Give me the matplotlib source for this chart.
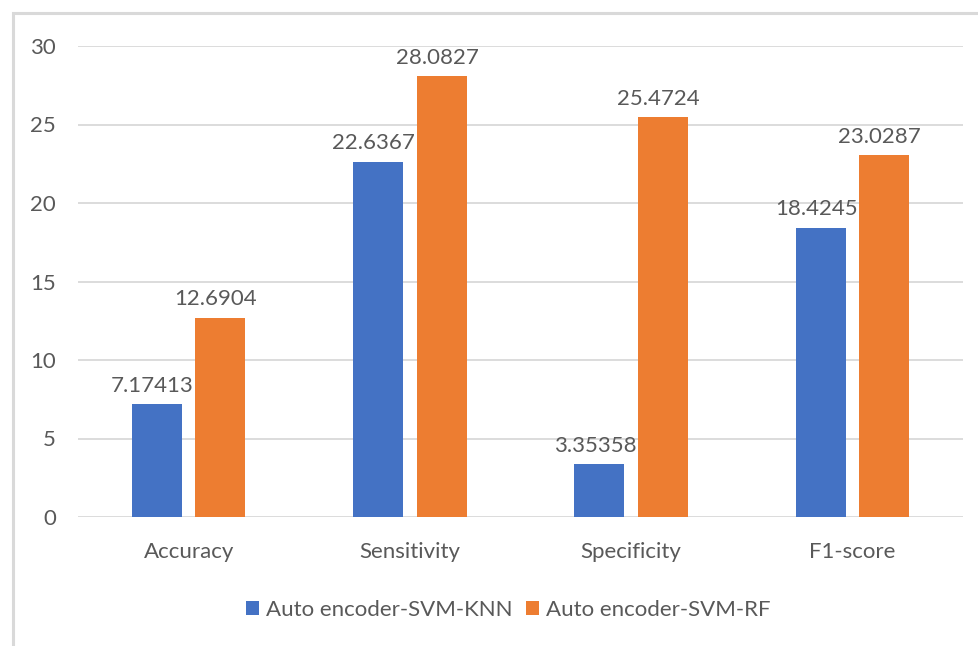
import numpy as np
import matplotlib.pyplot as plt
from matplotlib.patches import Rectangle

categories = ["Accuracy", "Sensitivity", "Specificity", "F1-score"]
knn_vals = [7.17413, 22.6367, 3.35358, 18.4245]
rf_vals = [12.6904, 28.0827, 25.4724, 23.0287]
knn_labels = ["7.17413", "22.6367", "3.35358", "18.4245"]
rf_labels = ["12.6904", "28.0827", "25.4724", "23.0287"]
series_names = ["Auto encoder-SVM-KNN", "Auto encoder-SVM-RF"]

blue = "#4472C4"
orange = "#ED7D31"
txt = "#595959"
fs = 16

plt.rcParams["font.family"] = ["Lato", "DejaVu Sans"]

fig = plt.figure(figsize=(9.79, 6.46), dpi=100)
ax = fig.add_axes([78 / 979, 1 - 517 / 646, 885 / 979, 471 / 646])

# chart frame (left and top edges visible)
fig.patches.append(Rectangle((13 / 979, -0.1), 1.2, 1 - 13 / 646 + 0.1,
                             transform=fig.transFigure, fill=False,
                             edgecolor="#d9d9d9", linewidth=2.2))

x = np.arange(len(categories))
w = 0.226
gap = 0.06
off = (w + gap) / 2
b1 = ax.bar(x - off, knn_vals, w, color=blue, label=series_names[0], zorder=3)
b2 = ax.bar(x + off, rf_vals, w, color=orange, label=series_names[1], zorder=3)

for bars, labs in ((b1, knn_labels), (b2, rf_labels)):
    for r, lab in zip(bars, labs):
        ax.annotate(lab, (r.get_x() + r.get_width() / 2 - 0.02, r.get_height()),
                    xytext=(0, 6), textcoords="offset points",
                    ha="center", va="bottom", fontsize=fs, color=txt, zorder=4)

ax.set_xlim(-0.5, len(categories) - 0.5)
ax.set_ylim(0, 30)
ax.set_yticks(np.arange(0, 31, 5))
ax.yaxis.grid(True, color="#d9d9d9", linewidth=1.3, zorder=0)
ax.set_xticks(x)
ax.set_xticklabels(categories)
for s in ax.spines.values():
    s.set_visible(False)
ax.tick_params(axis="both", length=0, labelsize=fs, colors=txt)
ax.tick_params(axis="y", pad=16)
ax.tick_params(axis="x", pad=18)

leg = fig.legend(loc="center", bbox_to_anchor=(508 / 979, 1 - 610 / 646), ncol=2,
                 frameon=False, fontsize=fs, handlelength=0.6, handleheight=0.6,
                 handletextpad=0.3, columnspacing=0.6)
for t in leg.get_texts():
    t.set_color(txt)

fig.savefig("out.png", dpi=100, facecolor="white")
